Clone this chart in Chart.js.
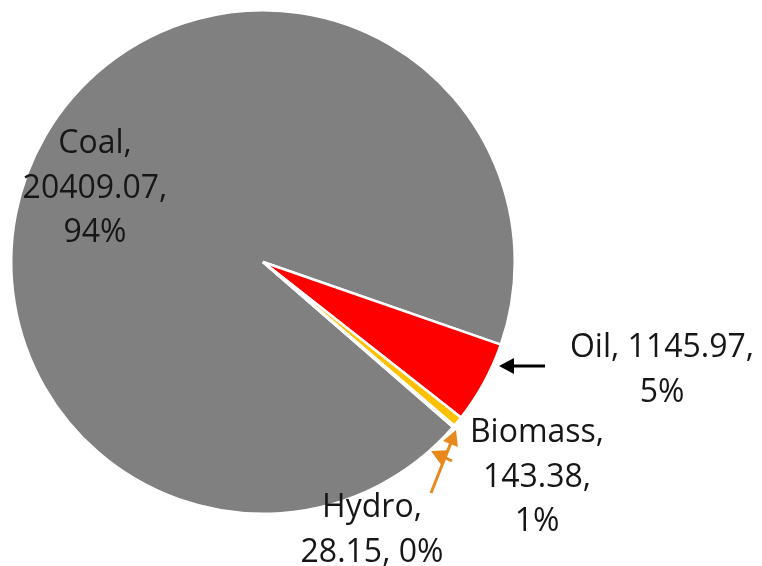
<!DOCTYPE html>
<html>
<head>
<meta charset="utf-8">
<script src="https://cdn.jsdelivr.net/npm/chart.js@4/dist/chart.umd.min.js"></script>
<style>
    html, body { margin: 0; padding: 0; background: #fff; }
    #wrap { width: 762px; height: 566px; }
</style>
</head>
<body>
<div id="wrap"><canvas id="pieChart" width="762" height="566"></canvas></div>
<script>
// data
var categories = ["Coal", "Oil", "Biomass", "Hydro"];
var values = [20409.07, 1145.97, 143.38, 28.15];
var sliceColors = ["#808080", "#ff0000", "#ffc000", "#ed8b1f"];

// label placement (offset of first baseline from pie centre) and leader arrows
var labelOffsets = [[-168, -109], [399, 95], [274, 180], [109, 255]];
var labelLines = [
    function (c, v, p) { return [c + ",", v + ",", p]; },
    function (c, v, p) { return [c + ", " + v + ",", p]; },
    function (c, v, p) { return [c + ",", v + ",", p]; },
    function (c, v, p) { return [c + ",", v + ", " + p]; }
];
var arrows = [
    { from: [282, 104], to: [236, 104], color: "#000000" },
    { from: [168, 231], to: [193, 168], color: "#e8891e" },
    { from: [189, 199], to: [168, 189], color: "#e8891e" }
];

var total = values.reduce(function (a, b) { return a + b; }, 0);

function drawArrow(ctx, x1, y1, x2, y2, color) {
    var ang = Math.atan2(y2 - y1, x2 - x1);
    var head = 15, half = 8;
    ctx.save();
    ctx.strokeStyle = color;
    ctx.fillStyle = color;
    ctx.lineWidth = 3;
    ctx.beginPath();
    ctx.moveTo(x1, y1);
    ctx.lineTo(x2 - Math.cos(ang) * head * 0.8, y2 - Math.sin(ang) * head * 0.8);
    ctx.stroke();
    ctx.beginPath();
    ctx.moveTo(x2, y2);
    ctx.lineTo(x2 - Math.cos(ang) * head - Math.sin(ang) * half, y2 - Math.sin(ang) * head + Math.cos(ang) * half);
    ctx.lineTo(x2 - Math.cos(ang) * head + Math.sin(ang) * half, y2 - Math.sin(ang) * head - Math.cos(ang) * half);
    ctx.closePath();
    ctx.fill();
    ctx.restore();
}

var labelPlugin = {
    id: "pieLabels",
    afterDatasetsDraw: function (chart) {
        var ctx = chart.ctx;
        var arc = chart.getDatasetMeta(0).data[0];
        var cx = arc.x, cy = arc.y;

        arrows.forEach(function (a) {
            drawArrow(ctx, cx + a.from[0], cy + a.from[1], cx + a.to[0], cy + a.to[1], a.color);
        });

        ctx.save();
        ctx.font = "32px 'Open Sans'";
        ctx.fillStyle = "#161616";
        ctx.textAlign = "center";
        ctx.textBaseline = "alphabetic";
        categories.forEach(function (cat, i) {
            var pct = Math.round(values[i] / total * 100) + "%";
            var lines = labelLines[i](cat, values[i].toFixed(2), pct);
            lines.forEach(function (t, j) {
                ctx.fillText(t, cx + labelOffsets[i][0], cy + labelOffsets[i][1] + j * 44.5);
            });
        });
        ctx.restore();
    }
};

new Chart(document.getElementById("pieChart").getContext("2d"), {
    type: "pie",
    data: {
        labels: categories,
        datasets: [{
            data: values,
            backgroundColor: sliceColors,
            borderColor: "#ffffff",
            borderWidth: 2.5
        }]
    },
    options: {
        responsive: false,
        animation: false,
        rotation: 131,
        layout: { padding: { left: 10, top: 9, right: 246, bottom: 51 } },
        plugins: {
            legend: { display: false },
            tooltip: { enabled: false }
        }
    },
    plugins: [labelPlugin]
});
</script>
</body>
</html>
